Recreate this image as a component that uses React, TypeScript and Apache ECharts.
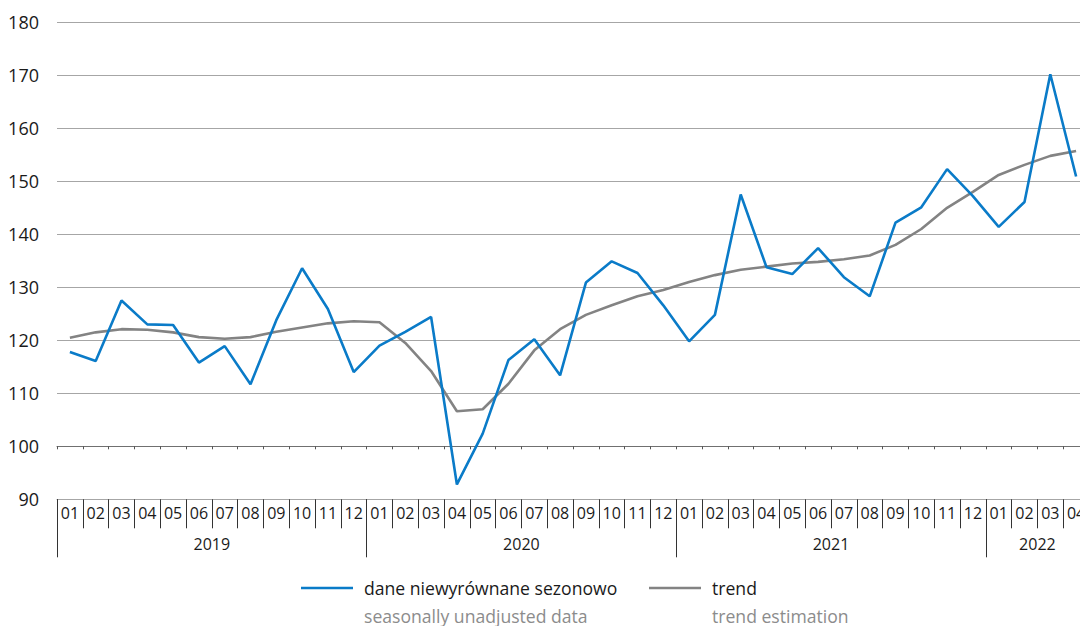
import React, { useEffect, useRef } from "react";
import * as echarts from "echarts";

const years = ["2019", "2020", "2021", "2022"];
const monthsPerYear = [12, 12, 12, 4];
const monthLabels = ["01", "02", "03", "04", "05", "06", "07", "08", "09", "10", "11", "12"];

const unadjusted = [
  117.8, 116.1, 127.5, 123.0, 122.9, 115.8, 118.9, 111.7, 123.8, 133.6, 125.9, 114.0,
  119.0, 121.6, 124.4, 92.8, 102.4, 116.3, 120.2, 113.4, 130.9, 134.9, 132.7, 126.6,
  119.8, 124.8, 147.5, 133.8, 132.5, 137.4, 131.9, 128.3, 142.2, 145.1, 152.3, 147.2,
  141.4, 146.1, 170.2, 150.9,
];

const trend = [
  120.5, 121.5, 122.1, 122.0, 121.5, 120.6, 120.3, 120.6, 121.6, 122.4, 123.2, 123.6,
  123.4, 119.5, 114.2, 106.6, 107.0, 111.8, 118.1, 122.1, 124.8, 126.6, 128.3, 129.5,
  131.0, 132.3, 133.3, 133.9, 134.5, 134.8, 135.3, 136.0, 138.0, 141.0, 145.0, 148.0,
  151.2, 153.1, 154.8, 155.7,
];

const seriesNamesPL = ["dane niewyrównane sezonowo", "trend"];
const seriesNamesEN = ["seasonally unadjusted data", "trend estimation"];

const yMin = 90;
const yMax = 180;
const yStep = 10;
const axisBaseValue = 100;

const FONT = "'Open Sans', 'Noto Sans', sans-serif";
const BLUE = "#0a7bc8";
const GRAY_LINE = "#838383";
const GRID_COLOR = "#a6a6a6";
const TEXT = "#1a1a1a";
const SUBTEXT = "#8c8c8c";

const CHART_W = 1100;
const CHART_H = 626;

export default function App() {
  const ref = useRef<HTMLDivElement>(null);

  useEffect(() => {
    if (!ref.current) return;
    const chart = echarts.init(ref.current, undefined, { renderer: "svg" });

    const monthCats: string[] = [];
    years.forEach((y, yi) => {
      for (let m = 0; m < monthsPerYear[yi]; m++) monthCats.push(monthLabels[m]);
    });
    const nMonths = monthCats.length;

    const halfCats: string[] = [];
    for (let k = 0; k <= nMonths * 2; k++) halfCats.push(String(k));
    const yearLabelAt: Record<number, string> = {};
    const yearTickAt = new Set<number>();
    let start = 0;
    years.forEach((y, yi) => {
      const cnt = monthsPerYear[yi];
      yearTickAt.add(start * 2);
      yearLabelAt[start * 2 + cnt] = y;
      start += cnt;
    });

    const gridTop = 22.3;
    const gridBottom = 126.7;
    const plotH = CHART_H - gridTop - gridBottom;
    const baseOffset = -((axisBaseValue - yMin) / (yMax - yMin)) * plotH;

    const legendLefts = [296, 644];
    const legends: any[] = [];
    seriesNamesPL.forEach((name, i) => {
      const base = {
        data: [name],
        selectedMode: false,
        left: legendLefts[i],
        icon: "rect",
        itemWidth: 52,
        itemHeight: 2.6,
      };
      legends.push({
        ...base,
        top: 574,
        formatter: (n: string) => `{a|${n}}`,
        textStyle: {
          fontFamily: FONT,
          fontSize: 17.6,
          color: TEXT,
          rich: { a: { padding: [0, 0, 0, 6], fontFamily: FONT, fontSize: 17.6, color: TEXT } },
        },
      });
      legends.push({
        ...base,
        top: 602,
        itemStyle: { opacity: 0 },
        formatter: (n: string) => `{a|${seriesNamesEN[seriesNamesPL.indexOf(n)]}}`,
        textStyle: {
          fontFamily: FONT,
          fontSize: 17.6,
          color: SUBTEXT,
          rich: { a: { padding: [0, 0, 0, 6], fontFamily: FONT, fontSize: 17.6, color: SUBTEXT } },
        },
      });
    });

    chart.setOption({
      animation: false,
      textStyle: { fontFamily: FONT },
      grid: { left: 57, right: CHART_W - 57 - 1032, top: gridTop, bottom: gridBottom, containLabel: false },
      legend: legends,
      xAxis: [
        {
          type: "category",
          data: monthCats,
          boundaryGap: true,
          position: "bottom",
          axisLine: { show: true, lineStyle: { color: GRID_COLOR, width: 1 } },
          axisTick: { show: true, interval: 0, length: 29, lineStyle: { color: "#333333", width: 1 } },
          axisLabel: { interval: 0, margin: 6, fontSize: 16, color: TEXT, fontFamily: FONT },
          splitLine: { show: false },
        },
        {
          type: "category",
          data: halfCats,
          boundaryGap: false,
          position: "bottom",
          axisLine: { show: false },
          axisTick: {
            show: true,
            interval: (i: number) => yearTickAt.has(i),
            length: 58,
            lineStyle: { color: "#333333", width: 1 },
          },
          axisLabel: {
            interval: (i: number) => yearLabelAt[i] !== undefined,
            formatter: (_v: string, i: number) => yearLabelAt[i] || "",
            margin: 37,
            fontSize: 16,
            color: TEXT,
            fontFamily: FONT,
          },
          splitLine: { show: false },
        },
        {
          type: "category",
          data: monthCats,
          boundaryGap: true,
          position: "bottom",
          offset: baseOffset,
          axisLine: { show: true, lineStyle: { color: "#707070", width: 1 } },
          axisTick: { show: true, interval: 0, length: 3, lineStyle: { color: "#555555", width: 1 } },
          axisLabel: { show: false },
          splitLine: { show: false },
        },
      ],
      yAxis: {
        type: "value",
        min: yMin,
        max: yMax,
        interval: yStep,
        axisLine: { show: false },
        axisTick: { show: false },
        axisLabel: { margin: 18, fontSize: 18, color: TEXT, fontFamily: FONT },
        splitLine: { show: true, lineStyle: { color: GRID_COLOR, width: 1 } },
      },
      series: [
        {
          name: seriesNamesPL[0],
          type: "line",
          data: unadjusted,
          xAxisIndex: 0,
          symbol: "none",
          color: BLUE,
          lineStyle: { color: BLUE, width: 2.6 },
          z: 3,
        },
        {
          name: seriesNamesPL[1],
          type: "line",
          data: trend,
          xAxisIndex: 0,
          symbol: "none",
          color: GRAY_LINE,
          lineStyle: { color: GRAY_LINE, width: 2.6 },
          z: 2,
        },
      ],
    });

    return () => chart.dispose();
  }, []);

  return (
    <div
      ref={ref}
      style={{ position: "fixed", left: 0, top: 0, width: CHART_W, height: CHART_H, background: "#ffffff" }}
    />
  );
}
